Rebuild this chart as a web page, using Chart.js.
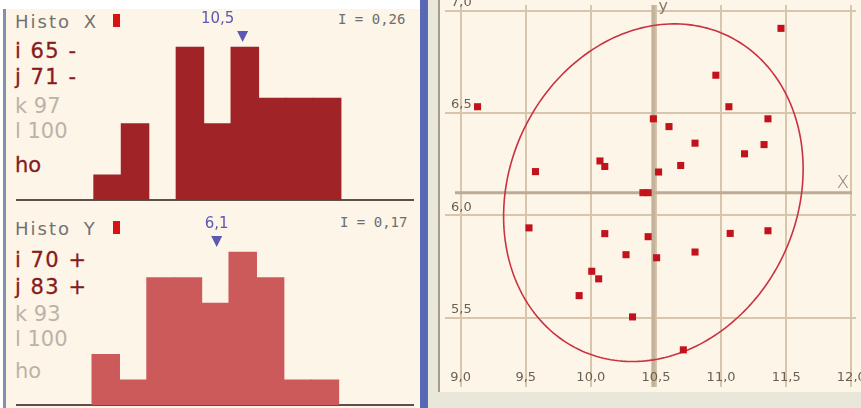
<!DOCTYPE html>
<html>
<head>
<meta charset="utf-8">
<script src="https://cdn.jsdelivr.net/npm/chart.js@4.4.1/dist/chart.umd.min.js"></script>
<style>
  html, body { margin: 0; padding: 0; }
  body { width: 861px; height: 408px; position: relative; overflow: hidden; background: #ffffff; font-family: "DejaVu Sans", sans-serif; }
  .box { position: absolute; }
  .lbl { position: absolute; white-space: nowrap; font-family: "DejaVu Sans", sans-serif; font-size: 21px; line-height: 21px; }
  .dark { color: #861c1c; letter-spacing: 1.5px; -webkit-text-stroke: 0.3px #861c1c; }
  .pale { color: #bcb3a8; }
  .title { position: absolute; white-space: nowrap; font-size: 18px; line-height: 18px; color: #727272; letter-spacing: 2px; word-spacing: 5px; }
  .idx { position: absolute; white-space: nowrap; font-family: "DejaVu Sans Mono", monospace; font-size: 14px; line-height: 14px; color: #6e6e6e; }
  .tag { position: absolute; width: 7px; height: 13px; background: #d81212; }
  canvas { position: absolute; display: block; }
</style>
</head>
<body>
<!-- left panel: the two marginal histograms -->
<div class="box" style="left:0;top:0;width:420px;height:408px;background:#ffffff"></div>
<div class="box" style="left:3px;top:9px;width:3px;height:399px;background:#8190ac"></div>
<div class="box" style="left:6px;top:9px;width:414px;height:399px;background:#fdf5e8"></div>

<div class="title" style="left:15px;top:13px">Histo X</div>
<div class="tag" style="left:113px;top:14px"></div>
<div class="idx" id="idxX" style="left:338px;top:12px"></div>
<div class="lbl dark" style="left:15px;top:41px">i 65 -</div>
<div class="lbl dark" style="left:15px;top:67px">j 71 -</div>
<div class="lbl pale" style="left:15px;top:96px">k 97</div>
<div class="lbl pale" style="left:15px;top:121px">l 100</div>
<div class="lbl dark" style="left:15px;top:155px;letter-spacing:0">ho</div>

<div class="title" style="left:15px;top:220px">Histo Y</div>
<div class="tag" style="left:113px;top:221px"></div>
<div class="idx" id="idxY" style="left:340px;top:215px"></div>
<div class="lbl dark" style="left:15px;top:250px">i 70 +</div>
<div class="lbl dark" style="left:15px;top:277px">j 83 +</div>
<div class="lbl pale" style="left:15px;top:304px">k 93</div>
<div class="lbl pale" style="left:15px;top:329px">l 100</div>
<div class="lbl pale" style="left:15px;top:361px">ho</div>

<canvas id="histX" width="414" height="194" style="left:6px;top:9px"></canvas>
<canvas id="histY" width="414" height="194" style="left:6px;top:214px"></canvas>

<!-- right panel: scatter plot frame -->
<div class="box" style="left:420px;top:0;width:7px;height:408px;background:#5868b6"></div>
<div class="box" style="left:427px;top:0;width:434px;height:408px;background:#e9e7da;border-left:1px solid #6f6f6f;box-sizing:border-box"></div>
<div class="box" style="left:438px;top:0;width:2px;height:392px;background:#a39b8c"></div>
<canvas id="scatter" width="421" height="392" style="left:440px;top:0;background:#fdf5e8"></canvas>

<script>
// Histogram of X: bin centres and counts
const histXBins = [9.25, 9.5, 9.75, 10.0, 10.25, 10.5, 10.75, 11.0, 11.25];
const histXCounts = [1, 3, 0, 6, 3, 6, 4, 4, 4];
// Histogram of Y: bin centres and counts
const histYBins = [5.3, 5.5, 5.7, 5.9, 6.1, 6.3, 6.5, 6.7, 6.9];
const histYCounts = [2, 1, 5, 5, 4, 6, 5, 1, 1];

// Means and dispersion indices
const meanX = 10.48;
const meanY = 6.11;
const indexX = 0.26;
const indexY = 0.17;

// Scatter points
const pointsX = [9.13, 9.575, 10.07, 10.107, 11.46, 10.96, 11.06, 10.48, 10.60, 11.36,
                 10.80, 11.33, 11.18, 10.69, 10.52, 10.40, 10.44, 9.525, 10.107, 10.27,
                 10.007, 10.06, 9.91, 10.32, 10.44, 10.505, 10.80, 11.07, 11.36, 10.71];
const pointsY = [6.53, 6.213, 6.265, 6.238, 6.913, 6.684, 6.53, 6.471, 6.433, 6.471,
                 6.352, 6.345, 6.30, 6.243, 6.211, 6.11, 6.11, 5.938, 5.91, 5.807,
                 5.726, 5.689, 5.607, 5.503, 5.895, 5.792, 5.82, 5.911, 5.924, 5.342];

// Concentration ellipse: half extents along x and y, and the phase lag giving its tilt
const ellipseRx = 1.15;
const ellipseRy = 0.825;
const ellipseLag = 1.43;

const fmt = v => v.toFixed(2).replace('.', ',');
const fmt1 = v => v.toFixed(1).replace('.', ',');
document.getElementById('idxX').textContent = 'I = ' + fmt(indexX);
document.getElementById('idxY').textContent = 'I = ' + fmt(indexY);

// triangle + value above the mean of a histogram
function meanMarker(mean, labelShift) {
  return {
    id: 'meanMarker',
    afterDatasetsDraw(chart) {
      const ctx = chart.ctx;
      const px = chart.scales.x.getPixelForValue(mean);
      ctx.save();
      ctx.fillStyle = '#5b59b2';
      ctx.beginPath();
      ctx.moveTo(px - 5.5, 22);
      ctx.lineTo(px + 5.5, 22);
      ctx.lineTo(px, 33);
      ctx.closePath();
      ctx.fill();
      ctx.font = '15px "DejaVu Sans"';
      ctx.textAlign = 'center';
      ctx.textBaseline = 'middle';
      ctx.fillText(fmt1(mean), px + labelShift, 10);
      ctx.restore();
    }
  };
}

function makeHist(id, bins, counts, color, mean, xMin, xMax, step, labelShift) {
  return new Chart(document.getElementById(id), {
    type: 'bar',
    data: {
      datasets: [{
        data: bins.map((b, i) => ({ x: b, y: counts[i] })),
        backgroundColor: color,
        borderWidth: 0,
        barPercentage: 1.04,
        categoryPercentage: 1
      }]
    },
    options: {
      responsive: false,
      animation: false,
      events: [],
      layout: { padding: { left: 10.7, right: 7, top: 0, bottom: 3 } },
      plugins: { legend: { display: false }, tooltip: { enabled: false } },
      scales: {
        x: {
          type: 'linear', min: xMin, max: xMax, offset: false,
          ticks: { display: false, stepSize: step, includeBounds: false },
          grid: { display: false, drawTicks: false },
          border: { display: true, color: '#5d504c', width: 2 }
        },
        y: { display: false, min: 0, max: 7.475 }
      }
    },
    plugins: [meanMarker(mean, labelShift)]
  });
}

makeHist('histX', histXBins, histXCounts, '#9f2327', meanX, 8.422, 12.032, 0.25, -25);
makeHist('histY', histYBins, histYCounts, '#cd5a5a', meanY, 4.650, 7.543, 0.2, 0);

// axes through the means, ellipse and tick labels of the scatter plot
const scatterDecor = {
  id: 'scatterDecor',
  beforeDatasetsDraw(chart) {
    const { ctx, chartArea: a, scales: { x, y } } = chart;
    const mx = x.getPixelForValue(meanX);
    const my = y.getPixelForValue(meanY);
    ctx.save();
    // mean axes
    ctx.strokeStyle = '#c4b29b';
    ctx.lineWidth = 4;
    ctx.beginPath(); ctx.moveTo(mx, a.top); ctx.lineTo(mx, a.bottom); ctx.stroke();
    ctx.strokeStyle = '#bcab96';
    ctx.lineWidth = 3;
    ctx.beginPath(); ctx.moveTo(a.left + 10, my); ctx.lineTo(a.right - 4, my); ctx.stroke();

    // ellipse
    ctx.strokeStyle = '#c93240';
    ctx.lineWidth = 1.6;
    ctx.beginPath();
    for (let k = 0; k <= 240; k++) {
      const t = k / 240 * Math.PI * 2;
      const ex = x.getPixelForValue(meanX + ellipseRx * Math.cos(t));
      const ey = y.getPixelForValue(meanY + ellipseRy * Math.cos(t - ellipseLag));
      if (k === 0) ctx.moveTo(ex, ey); else ctx.lineTo(ex, ey);
    }
    ctx.closePath();
    ctx.stroke();

    // tick labels inside the plot
    ctx.fillStyle = '#6b5f50';
    ctx.font = '13px "DejaVu Sans"';
    ctx.textBaseline = 'middle';
    ctx.textAlign = 'center';
    x.ticks.forEach(t => ctx.fillText(fmt1(t.value), x.getPixelForValue(t.value), a.bottom - 9));
    ctx.textAlign = 'left';
    y.ticks.forEach(t => ctx.fillText(fmt1(t.value), a.left + 6, y.getPixelForValue(t.value) - 8));

    // axis names
    ctx.fillStyle = '#857a6c';
    ctx.font = '16px "DejaVu Sans"';
    ctx.textAlign = 'center';
    ctx.fillText('y', mx + 10, 7);
    ctx.font = '200 18px "DejaVu Sans"';
    ctx.fillText('X', a.right - 13, my - 9);
    ctx.restore();
  }
};

new Chart(document.getElementById('scatter'), {
  type: 'scatter',
  data: {
    datasets: [{
      data: pointsX.map((v, i) => ({ x: v, y: pointsY[i] })),
      pointStyle: 'rect',
      radius: 5,
      borderWidth: 0,
      backgroundColor: '#c2121b'
    }]
  },
  options: {
    responsive: false,
    animation: false,
    events: [],
    layout: { padding: 0 },
    plugins: { legend: { display: false }, tooltip: { enabled: false } },
    scales: {
      x: {
        type: 'linear', min: 8.8801, max: 12.036,
        ticks: { display: false, stepSize: 0.5, includeBounds: false },
        grid: { color: '#d7c6ab', lineWidth: 2, drawTicks: false },
        border: { display: false }
      },
      y: {
        type: 'linear', min: 5.1605, max: 7.0271,
        ticks: { display: false, stepSize: 0.5, includeBounds: false },
        grid: { color: '#d7c6ab', lineWidth: 2, drawTicks: false },
        border: { display: false }
      }
    }
  },
  plugins: [scatterDecor]
});
</script>
</body>
</html>
